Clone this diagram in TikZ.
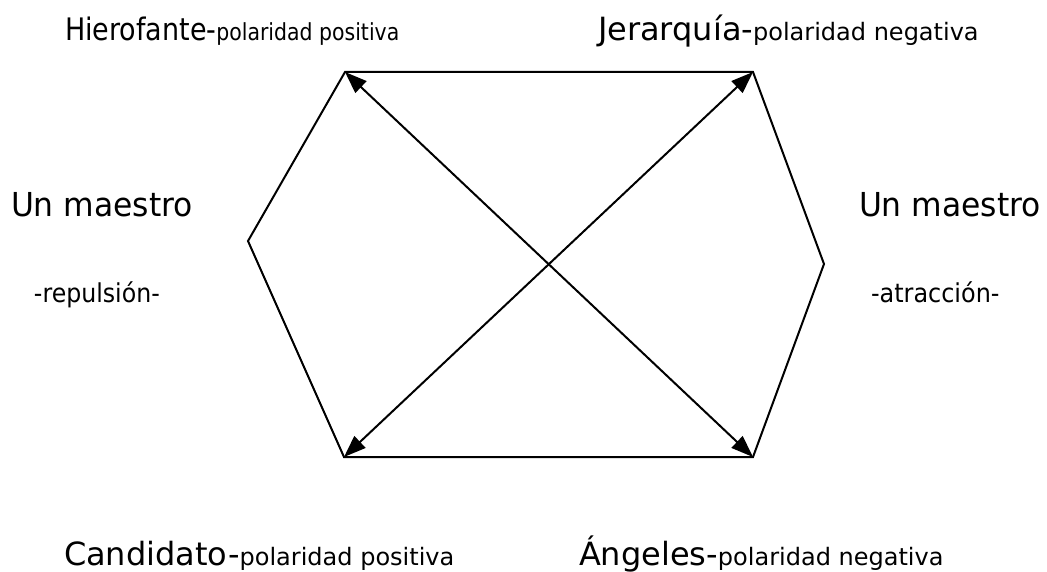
\documentclass[tikz,border=0pt]{standalone}
\usepackage{fontspec}
\setmainfont{DejaVu Sans}
\usetikzlibrary{positioning, arrows.meta}
% size and horizontal stretch of a label
\newcommand{\lsz}[2]{\fontsize{#1}{#1}\selectfont\addfontfeature{FakeStretch=#2}}

\begin{document}
\begin{tikzpicture}[x=1pt, y=-1pt, line width=2pt,
    lbl/.style={anchor=base west, inner sep=0pt},
    diag/.style={{Triangle[length=22pt,width=16pt]}-{Triangle[length=22pt,width=16pt]}}]
    \useasboundingbox (0,0) rectangle (1047,572);
    % hexagon corners
    \coordinate (tl) at (345,72);
    \coordinate (tr) at (753,72);
    \coordinate (r)  at (824,264);
    \coordinate (br) at (753,457);
    \coordinate (bl) at (344,457);
    \coordinate (l)  at (248,241);
    \draw (tl) -- (tr) -- (r) -- (br) -- (bl) -- (l) -- cycle;
    \draw[diag] (tl) -- (br);
    \draw[diag] (bl) -- (tr);
    % labels
    \node[lbl] (hiero) at (64,41) {\lsz{31}{0.87}Hierofante-\lsz{23.5}{0.87}polaridad positiva};
    \node[lbl] (jerar) at (597,41) {\lsz{32}{1}Jerarquía-\lsz{24}{1}polaridad negativa};
    \node[lbl] (maesl) at (10,217) {\lsz{33}{0.95}Un maestro};
    \node[lbl] (maesr) at (858,217) {\lsz{33}{0.95}Un maestro};
    \node[lbl] (repul) at (33,302) {\lsz{26}{0.91}-repulsión-};
    \node[lbl] (atrac) at (870,302) {\lsz{26}{0.92}-atracción-};
    \node[lbl] (candi) at (63,565) {\lsz{32}{1}Candidato-\lsz{24}{1}polaridad positiva};
    \node[lbl] (angel) at (578,565) {\lsz{32}{1}Ángeles-\lsz{24}{1}polaridad negativa};
\end{tikzpicture}
\end{document}
